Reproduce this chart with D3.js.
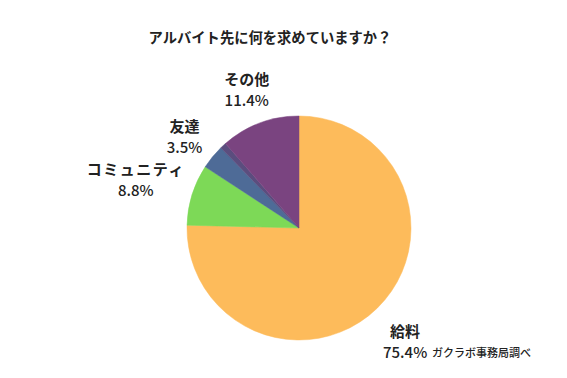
<!DOCTYPE html>
<html>
<head>
<meta charset="utf-8">
<script src="https://cdn.jsdelivr.net/npm/d3@7"></script>
<style>
  body { margin: 0; background: #fff; }
  text { font-family: "Noto Sans CJK JP", "Noto Sans", sans-serif; fill: #222; }
</style>
</head>
<body>
<div id="chart"></div>
<script>
// data
var categories = ["給料", "コミュニティ", "友達", "", "その他"];
var values = [75.4, 8.8, 3.5, 0.9, 11.4];
var colors = ["#fdbb5b", "#7dd957", "#4e6b97", "#5b4d7e", "#7a4480"];
var title = "アルバイト先に何を求めていますか？";
var source = "ガクラボ事務局調べ";

var width = 567, height = 378;
var cx = 299, cy = 228, radius = 112;

var svg = d3.select("#chart")
  .append("svg")
  .attr("width", width)
  .attr("height", height);

svg.append("text")
  .attr("x", 270)
  .attr("y", 43)
  .attr("text-anchor", "middle")
  .style("font-size", "14.3px")
  .style("font-weight", "bold")
  .text(title);

var data = categories.map(function(c, i) { return {name: c, value: values[i], color: colors[i]}; });

var pie = d3.pie()
  .sort(null)
  .value(function(d) { return d.value; });

var arc = d3.arc().innerRadius(0).outerRadius(radius);
var labelArc = d3.arc().innerRadius(152).outerRadius(152);

var g = svg.append("g")
  .attr("transform", "translate(" + cx + "," + cy + ")");

var arcs = pie(data);

g.selectAll("path")
  .data(arcs)
  .enter()
  .append("path")
  .attr("d", arc)
  .attr("fill", function(d) { return d.data.color; })
  .attr("stroke", function(d) { return d.data.color; })
  .attr("stroke-width", 0.5);

// labels (small unlabeled slice skipped)
var nudge = {"コミュニティ": [-18, -3], "友達": [3, 6], "給料": [0, 5], "その他": [1, 5]};

var labels = g.selectAll(".lbl")
  .data(arcs.filter(function(d) { return d.data.name !== ""; }))
  .enter()
  .append("text")
  .attr("class", "lbl")
  .attr("text-anchor", "middle")
  .attr("transform", function(d) {
    var c = labelArc.centroid(d), n = nudge[d.data.name] || [0, 0];
    return "translate(" + (c[0] + n[0]) + "," + (c[1] + n[1]) + ")";
  })
  .style("font-size", "15px")
  .style("font-weight", "500");

labels.append("tspan")
  .attr("x", 0)
  .attr("dy", "-0.35em")
  .style("font-weight", "bold")
  .style("letter-spacing", function(d) { return d.data.name === "コミュニティ" ? "1.5px" : "0px"; })
  .text(function(d) { return d.data.name; });

labels.append("tspan")
  .attr("x", 0)
  .attr("dy", "1.4em")
  .text(function(d) { return d.data.value + "%"; });

svg.append("text")
  .attr("x", 432)
  .attr("y", 357)
  .style("font-size", "11px")
  .style("font-weight", "500")
  .text(source);
</script>
</body>
</html>
